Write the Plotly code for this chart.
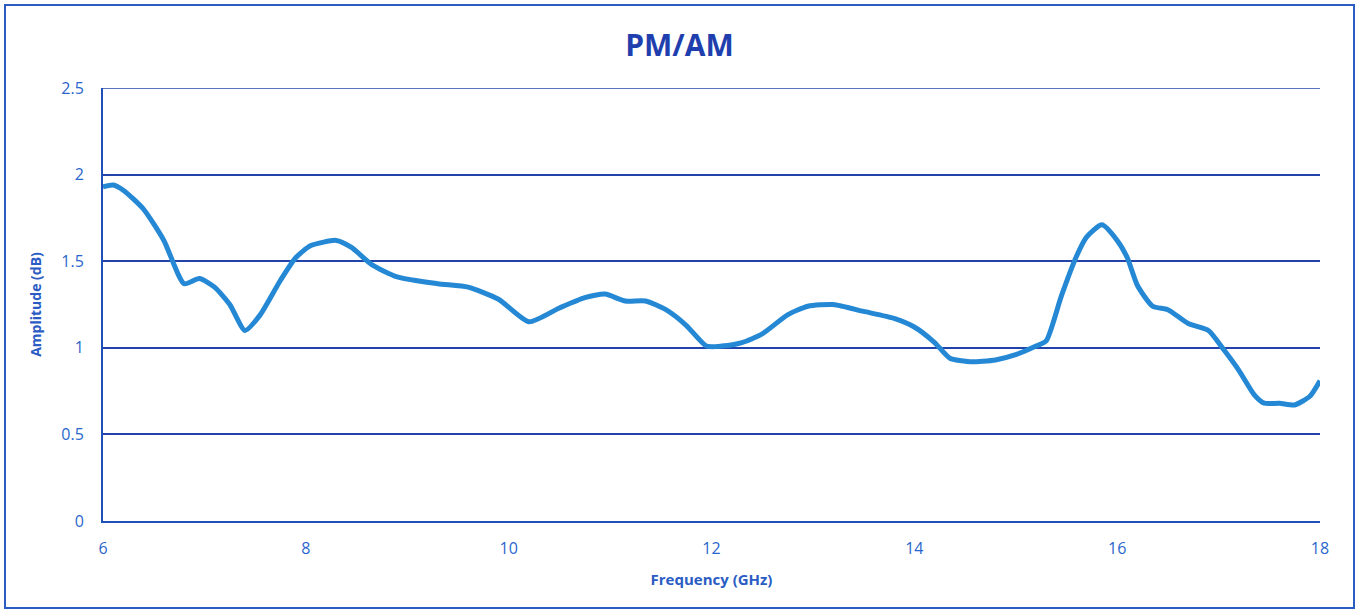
import plotly.graph_objects as go

freq_ghz = [6.0, 6.1, 6.2, 6.4, 6.6, 6.8, 6.95, 7.1, 7.25, 7.4, 7.55, 7.75, 7.9, 8.05, 8.3,
            8.45, 8.65, 8.9, 9.3, 9.6, 9.9, 10.2, 10.5, 10.75, 10.95, 11.15, 11.35, 11.55,
            11.75, 11.95, 12.1, 12.3, 12.5, 12.75, 12.95, 13.2, 13.5, 13.8, 14.0, 14.2,
            14.35, 14.55, 14.8, 15.0, 15.2, 15.3, 15.45, 15.6, 15.7, 15.85, 16.0, 16.1,
            16.2, 16.35, 16.5, 16.7, 16.9, 17.05, 17.2, 17.35, 17.45, 17.6, 17.75, 17.9, 18.0]
amplitude_db = [1.93, 1.94, 1.91, 1.80, 1.62, 1.37, 1.40, 1.35, 1.25, 1.10, 1.19, 1.39, 1.52,
                1.59, 1.62, 1.58, 1.48, 1.41, 1.37, 1.35, 1.28, 1.15, 1.23, 1.29, 1.31, 1.27,
                1.27, 1.22, 1.13, 1.01, 1.01, 1.03, 1.08, 1.19, 1.24, 1.25, 1.21, 1.17, 1.12,
                1.03, 0.94, 0.92, 0.93, 0.96, 1.01, 1.04, 1.30, 1.53, 1.64, 1.71, 1.62, 1.52,
                1.36, 1.24, 1.22, 1.14, 1.10, 0.99, 0.87, 0.73, 0.68, 0.68, 0.67, 0.72, 0.81]
x_ticks = [6, 8, 10, 12, 14, 16, 18]
y_ticks = [0, 0.5, 1, 1.5, 2, 2.5]
y_tick_labels = ["0", "0.5", "1", "1.5", "2", "2.5"]

W, H = 1359, 612
L, R, T, B = 103, 39, 88, 91
pw, ph = W - L - R, H - T - B

fig = go.Figure()
fig.add_trace(go.Scatter(
    x=freq_ghz, y=amplitude_db, mode="lines",
    line=dict(color="#2588d4", width=5, shape="spline", smoothing=0.6),
    showlegend=False, hoverinfo="x+y"))

font_family = "Open Sans, Lato, sans-serif"
fig.update_layout(
    width=W, height=H,
    margin=dict(l=L, r=R, t=T, b=B),
    paper_bgcolor="white", plot_bgcolor="white",
    title=dict(text="<b>PM/AM</b>", x=0.5, xanchor="center", y=1 - 45 / H, yanchor="middle",
               font=dict(family=font_family, size=30, color="#1f3fae")),
    xaxis=dict(range=[6, 18], tickvals=x_ticks, showgrid=False, zeroline=False,
               showline=True, linecolor="#1f4fb8", linewidth=2, ticks="",
               ticklabelstandoff=12,
               tickfont=dict(family=font_family, size=16, color="#2a66cc"),
               title=dict(text="<b>Frequency (GHz)</b>", standoff=16,
                          font=dict(family=font_family, size=15, color="#2a5cc4"))),
    yaxis=dict(range=[0, 2.5], tickvals=y_ticks, ticktext=y_tick_labels,
               showgrid=True, gridcolor="#2244aa", gridwidth=1.5, zeroline=False,
               showline=True, linecolor="#1f4fb8", linewidth=2, ticks="",
               ticklabelstandoff=14,
               tickfont=dict(family=font_family, size=16, color="#2a66cc"),
               title=dict(text="<b>Amplitude (dB)</b>", standoff=16,
                          font=dict(family=font_family, size=14, color="#2a5cc4"))),
    shapes=[
        dict(type="rect", xref="paper", yref="paper",
             x0=(5 - L) / pw, x1=(1354 - L) / pw,
             y0=(H - B - 608) / ph, y1=(H - B - 5) / ph,
             line=dict(color="#2a5cc4", width=2), fillcolor="rgba(0,0,0,0)", layer="below"),
        dict(type="line", xref="paper", yref="y", x0=0, x1=1, y0=2.5, y1=2.5,
             line=dict(color="#2244aa", width=1.5), layer="below"),
    ],
)

fig.write_html("out.html", config={"displayModeBar": False},
               post_script="document.body.style.margin='0';")
